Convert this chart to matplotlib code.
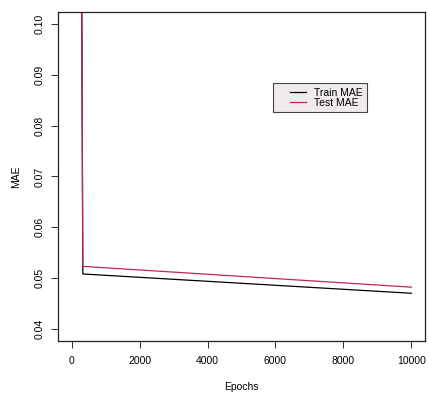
import matplotlib
matplotlib.use('Agg')
import matplotlib.pyplot as plt
from matplotlib.legend_handler import HandlerLine2D

# Data
epochs = [0, 330, 10000]
train_mae = [0.62, 0.0508, 0.0470]
test_mae = [0.63, 0.0523, 0.0482]

x_ticks = [0, 2000, 4000, 6000, 8000, 10000]
y_ticks = [0.04, 0.05, 0.06, 0.07, 0.08, 0.09, 0.10]

plt.rcParams['font.family'] = ['Liberation Sans', 'DejaVu Sans']
plt.rcParams['font.size'] = 7.5

fig = plt.figure(figsize=(4.28, 3.94), dpi=100)
ax = fig.add_axes([58 / 428, 53 / 394, 367 / 428, 329 / 394])

l1, = ax.plot(epochs, train_mae, color='black', lw=0.9, label='Train MAE')
l2, = ax.plot(epochs, test_mae, color='#c0245a', lw=0.9, label='Test MAE')

ax.set_xlim(-400, 10400)
ax.set_ylim(0.0376, 0.1024)
ax.set_xticks(x_ticks)
ax.set_xticklabels([str(t) for t in x_ticks])
ax.set_yticks(y_ticks)
ax.set_yticklabels(['%.2f' % t for t in y_ticks], rotation=90, va='center')

ax.tick_params(direction='out', length=5, width=0.75, color='#333333', pad=6)
ax.tick_params(axis='y', pad=4.5)
for s in ax.spines.values():
    s.set_linewidth(0.9)
    s.set_color('#222222')

ax.set_xlabel('Epochs', labelpad=11.5)
ax.set_ylabel('MAE', labelpad=9.5)

hm = {l1: HandlerLine2D(xpad=1.2), l2: HandlerLine2D(xpad=1.2)}
leg = ax.legend(loc='upper left', bbox_to_anchor=(0.586, 0.784), fancybox=False,
                edgecolor='#444444', facecolor='#efebeb', framealpha=1,
                handlelength=2.7, handletextpad=0.77, borderpad=0.45,
                labelspacing=0.0, borderaxespad=0, handler_map=hm)
leg.get_frame().set_linewidth(0.8)

fig.savefig('out.png', dpi=100)
